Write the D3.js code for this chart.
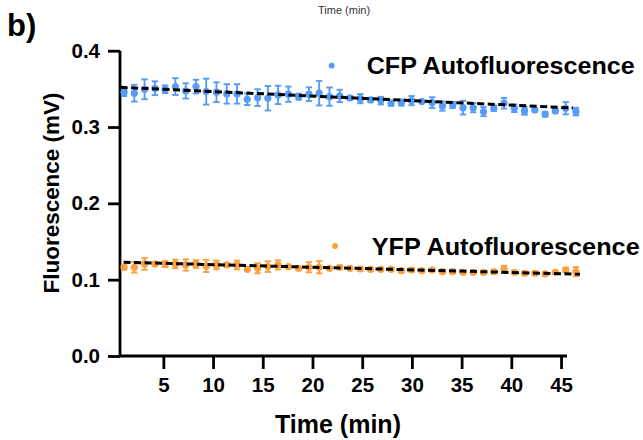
<!DOCTYPE html>
<html><head><meta charset="utf-8">
<script src="https://cdn.jsdelivr.net/npm/d3@7"></script>
<style>body{margin:0;background:#fff}svg{display:block}text{font-family:"Liberation Sans",Arial,sans-serif}</style>
</head><body><svg id="c" width="643" height="440"></svg>
<script>
// ---- data ----
const times = [1.05,2.08,3.11,4.15,5.18,6.21,7.25,8.28,9.31,10.34,11.38,12.41,13.44,14.48,15.51,16.54,17.58,18.61,19.64,20.67,21.71,22.74,23.77,24.81,25.84,26.87,27.91,28.94,29.97,31.00,32.04,33.07,34.10,35.14,36.17,37.20,38.24,39.27,40.30,41.33,42.37,43.40,44.43,45.47,46.50];
const cfpMean = [0.3456,0.3443,0.3495,0.3508,0.3495,0.3530,0.3473,0.3530,0.3464,0.3456,0.3434,0.3434,0.3364,0.3385,0.3377,0.3421,0.3430,0.3398,0.3430,0.3443,0.3398,0.3408,0.3381,0.3372,0.3355,0.3346,0.3312,0.3320,0.3346,0.3333,0.3320,0.3274,0.3290,0.3254,0.3254,0.3202,0.3246,0.3312,0.3246,0.3211,0.3224,0.3168,0.3211,0.3246,0.3202];
const cfpErr = [0.005,0.011,0.013,0.009,0.005,0.011,0.010,0.009,0.017,0.013,0.0127,0.0127,0.0076,0.011,0.016,0.012,0.010,0.004,0.009,0.016,0.012,0.008,0.002,0.006,0.002,0.005,0.0035,0.004,0.006,0.001,0.007,0.006,0.004,0.009,0.006,0.006,0.0035,0.007,0.005,0.005,0.001,0.003,0.002,0.008,0.005];
const yfpMean = [0.1163,0.1163,0.1206,0.1206,0.1206,0.1206,0.1193,0.1206,0.1180,0.1193,0.1193,0.1193,0.1136,0.1149,0.1171,0.1193,0.1171,0.1149,0.1163,0.1163,0.1149,0.1163,0.1149,0.1140,0.1136,0.1136,0.1136,0.1118,0.1127,0.1118,0.1127,0.1105,0.1105,0.1097,0.1097,0.1097,0.1105,0.1136,0.1097,0.1084,0.1084,0.1075,0.1097,0.1127,0.1105];
const yfpErr = [0.003,0.007,0.0076,0.002,0.004,0.0057,0.0074,0.005,0.008,0.0057,0.002,0.0057,0.001,0.0066,0.007,0.006,0.001,0.001,0.0066,0.008,0.001,0.002,0.001,0.002,0.002,0.002,0.002,0.002,0.002,0.002,0.002,0.002,0.002,0.002,0.002,0.002,0.002,0.0048,0.002,0.002,0.002,0.002,0.002,0.003,0.006];
const cfpFit = [[0.7,0.352],[46.2,0.325]];
const yfpFit = [[1.0,0.1228],[46.9,0.1071]];
const xTicks = [5,10,15,20,25,30,35,40,45];
const yTicks = [0.0,0.1,0.2,0.3,0.4];
const seriesNames = ["CFP Autofluorescence","YFP Autofluorescence"];
const colors = ["#569cf5","#f9a03f"];

const svg = d3.select("#c");
const x = d3.scaleLinear().domain([0.64,45.6]).range([120,567]);
const y = d3.scaleLinear().domain([0,0.4]).range([356,50.7]);

// title bits
svg.append("text").attr("x",7).attr("y",36).attr("font-size",31).attr("font-weight","bold").text("b)");
svg.append("text").attr("x",318).attr("y",14).attr("font-size",11).attr("fill","#333").text("Time (min)");

// axes
const yAx = svg.append("g").attr("transform","translate(120,0)")
  .call(d3.axisLeft(y).tickValues(yTicks).tickFormat(d3.format(".1f")).tickSize(12).tickPadding(8));
const xAx = svg.append("g").attr("transform","translate(0,356)")
  .call(d3.axisBottom(x).tickValues(xTicks).tickSize(13).tickPadding(8));
[yAx,xAx].forEach(g=>{
  g.select(".domain").attr("stroke","#000").attr("stroke-width",2.8);
  g.selectAll(".tick line").attr("stroke","#000").attr("stroke-width",2.8);
  g.selectAll(".tick text").attr("font-size",20.5).attr("font-weight","bold").attr("fill","#000")
   .attr("font-family","Liberation Sans, Arial, sans-serif");
});
yAx.select(".domain").attr("d","M0,356V50.7");
xAx.select(".domain").attr("d","M120,0H567");

svg.append("text").attr("x",338).attr("y",433).attr("text-anchor","middle")
  .attr("font-size",25).attr("font-weight","bold").text("Time (min)");
svg.append("text").attr("transform","translate(59,193) rotate(-90)").attr("text-anchor","middle")
  .attr("font-size",22.5).attr("font-weight","bold").attr("textLength",201).attr("lengthAdjust","spacingAndGlyphs")
  .text("Fluorescence (mV)");

// series
const series = [
  {mean:cfpMean, err:cfpErr, fit:cfpFit, color:colors[0]},
  {mean:yfpMean, err:yfpErr, fit:yfpFit, color:colors[1]}
];
series.forEach(s=>{
  const g = svg.append("g");
  const pts = times.map((t,i)=>({t, m:s.mean[i], e:s.err[i]}));
  const eb = g.selectAll(".eb").data(pts).enter().append("g").attr("stroke",s.color).attr("stroke-width",1.9);
  eb.append("line").attr("x1",d=>x(d.t)).attr("x2",d=>x(d.t)).attr("y1",d=>y(d.m-d.e)).attr("y2",d=>y(d.m+d.e));
  eb.append("line").attr("x1",d=>x(d.t)-3.2).attr("x2",d=>x(d.t)+3.2).attr("y1",d=>y(d.m+d.e)).attr("y2",d=>y(d.m+d.e));
  eb.append("line").attr("x1",d=>x(d.t)-3.2).attr("x2",d=>x(d.t)+3.2).attr("y1",d=>y(d.m-d.e)).attr("y2",d=>y(d.m-d.e));
  g.selectAll("circle").data(pts).enter().append("circle")
    .attr("cx",d=>x(d.t)).attr("cy",d=>y(d.m)).attr("r",3.6).attr("fill",s.color);
  g.append("path").attr("d",d3.line().x(d=>x(d[0])).y(d=>y(d[1]))(s.fit))
    .attr("stroke","#000").attr("stroke-width",3).attr("stroke-dasharray","7,3.5").attr("fill","none");
});

// legend
const legend = [{dx:331.7,dy:65.7,tx:366.7},{dx:335,dy:246,tx:371.7}];
legend.forEach((l,i)=>{
  svg.append("circle").attr("cx",l.dx).attr("cy",l.dy).attr("r",2.9).attr("fill",colors[i]);
  svg.append("text").attr("x",l.tx).attr("y",l.dy+8.5).attr("font-size",23.5).attr("font-weight","bold")
    .attr("textLength",268).attr("lengthAdjust","spacingAndGlyphs").text(seriesNames[i]);
});
</script></body></html>
